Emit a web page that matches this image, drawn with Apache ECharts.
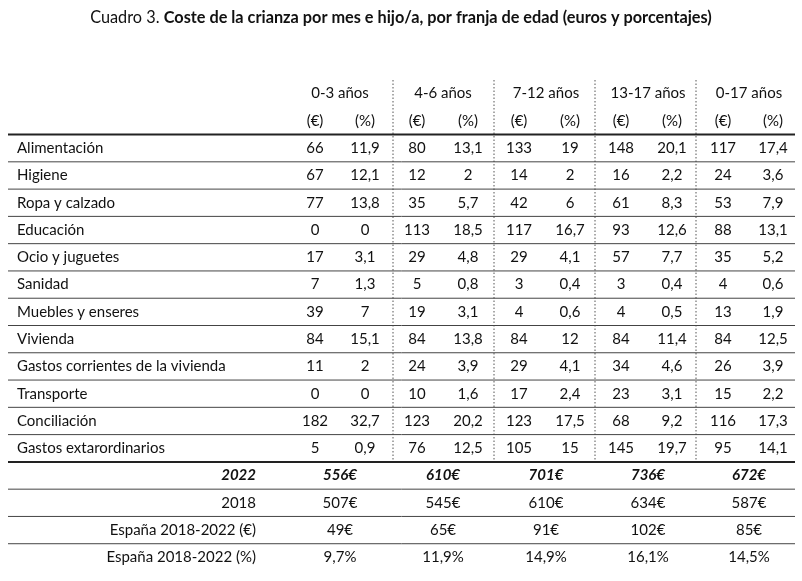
<!DOCTYPE html>
<html lang="es">
<head>
    <meta charset="UTF-8">
    <title>Cuadro 3</title>
    <script src="https://cdn.jsdelivr.net/npm/echarts@6/dist/echarts.min.js"></script>
    <style>
        html, body { margin: 0; padding: 0; background: #fff; }
        #main { width: 802px; height: 581px; }
    </style>
</head>
<body>
    <div id="main"></div>
    <script type="text/javascript">
        // datos de la tabla
        var categories = ['Alimentación', 'Higiene', 'Ropa y calzado', 'Educación', 'Ocio y juguetes', 'Sanidad',
            'Muebles y enseres', 'Vivienda', 'Gastos corrientes de la vivienda', 'Transporte', 'Conciliación',
            'Gastos extarordinarios'];
        var ageGroups = ['0-3 años', '4-6 años', '7-12 años', '13-17 años', '0-17 años'];
        var units = ['(€)', '(%)'];

        var eur0_3 = [66, 67, 77, 0, 17, 7, 39, 84, 11, 0, 182, 5];
        var pct0_3 = [11.9, 12.1, 13.8, 0, 3.1, 1.3, 7, 15.1, 2, 0, 32.7, 0.9];
        var eur4_6 = [80, 12, 35, 113, 29, 5, 19, 84, 24, 10, 123, 76];
        var pct4_6 = [13.1, 2, 5.7, 18.5, 4.8, 0.8, 3.1, 13.8, 3.9, 1.6, 20.2, 12.5];
        var eur7_12 = [133, 14, 42, 117, 29, 3, 4, 84, 29, 17, 123, 105];
        var pct7_12 = [19, 2, 6, 16.7, 4.1, 0.4, 0.6, 12, 4.1, 2.4, 17.5, 15];
        var eur13_17 = [148, 16, 61, 93, 57, 3, 4, 84, 34, 23, 68, 145];
        var pct13_17 = [20.1, 2.2, 8.3, 12.6, 7.7, 0.4, 0.5, 11.4, 4.6, 3.1, 9.2, 19.7];
        var eur0_17 = [117, 24, 53, 88, 35, 4, 13, 84, 26, 15, 116, 95];
        var pct0_17 = [17.4, 3.6, 7.9, 13.1, 5.2, 0.6, 1.9, 12.5, 3.9, 2.2, 17.3, 14.1];

        var summaryLabels = ['2022', '2018', 'España 2018-2022 (€)', 'España 2018-2022 (%)'];
        var total2022 = [556, 610, 701, 736, 672];
        var total2018 = [507, 545, 610, 634, 587];
        var diffEur = [49, 65, 91, 102, 85];
        var diffPct = [9.7, 11.9, 14.9, 16.1, 14.5];

        var eurByGroup = [eur0_3, eur4_6, eur7_12, eur13_17, eur0_17];
        var pctByGroup = [pct0_3, pct4_6, pct7_12, pct13_17, pct0_17];

        // maquetacion (posiciones en el eje x, 0..802)
        var labelX = 17, summaryRight = 256;
        var eurX = [315, 417, 519, 621, 723];
        var pctX = [365, 468, 570, 672, 773];
        var groupX = [340, 443, 546, 648, 749];
        var dividerX = [393, 494, 595, 696];
        var lineLeft = 8, lineRight = 795;
        var font = 'Lato, "DejaVu Sans", sans-serif';

        var rowKeys = ['grupos', 'unidades'].concat(categories, summaryLabels);
        var nCat = categories.length;
        var lastCatRow = 1 + nCat;

        function fmt(v) { return String(v).replace('.', ','); }

        function txt(x, y, s, align, bold, italic) {
            return {
                type: 'text',
                style: {
                    x: x, y: y, text: s,
                    textAlign: align || 'center', textVerticalAlign: 'middle',
                    fontFamily: font, fontSize: 15,
                    fontWeight: bold ? 'bold' : 'normal',
                    fontStyle: italic ? 'italic' : 'normal',
                    fill: '#111'
                }
            };
        }
        function hline(y, w, color) {
            return {
                type: 'line',
                shape: { x1: lineLeft, y1: y, x2: lineRight, y2: y },
                style: { stroke: color, lineWidth: w }
            };
        }

        function renderItem(params, api) {
            var r = api.value(0);
            var y = api.coord([0, r])[1];
            var bh = api.size([0, 1])[1];
            var bottom = y + bh / 2;
            var kids = [];
            var g, s;

            if (r === 0) {
                for (g = 0; g < ageGroups.length; g++) kids.push(txt(groupX[g], y, ageGroups[g]));
                // separadores punteados entre franjas
                var top = api.coord([0, 0])[1] - bh / 2;
                var end = api.coord([0, lastCatRow])[1] + bh / 2;
                for (g = 0; g < dividerX.length; g++) {
                    kids.push({
                        type: 'line',
                        shape: { x1: dividerX[g], y1: top, x2: dividerX[g], y2: end },
                        style: { stroke: '#555', lineWidth: 1, lineDash: [1.5, 2] }
                    });
                }
            } else if (r === 1) {
                for (g = 0; g < ageGroups.length; g++) {
                    kids.push(txt(eurX[g], y, units[0]));
                    kids.push(txt(pctX[g], y, units[1]));
                }
                kids.push(hline(bottom, 2, '#222'));
            } else if (r <= lastCatRow) {
                var i = r - 2;
                kids.push(txt(labelX, y, categories[i], 'left'));
                for (g = 0; g < ageGroups.length; g++) {
                    kids.push(txt(eurX[g], y, fmt(eurByGroup[g][i])));
                    kids.push(txt(pctX[g], y, fmt(pctByGroup[g][i])));
                }
                kids.push(r === lastCatRow ? hline(bottom, 2, '#222') : hline(bottom, 1, '#444'));
            } else {
                s = r - lastCatRow - 1;
                var bold = s === 0;
                kids.push(txt(summaryRight, y, summaryLabels[s], 'right', bold, bold));
                for (g = 0; g < ageGroups.length; g++) {
                    var v;
                    if (s === 0) v = total2022[g] + '€';
                    else if (s === 1) v = total2018[g] + '€';
                    else if (s === 2) v = diffEur[g] + '€';
                    else v = fmt(diffPct[g]) + '%';
                    kids.push(txt(groupX[g], y, v, 'center', bold, bold));
                }
                if (s < 3) kids.push(hline(bottom, 1, '#444'));
            }
            return { type: 'group', children: kids };
        }

        var myChart = echarts.init(document.getElementById('main'));

        var option = {
            animation: false,
            title: {
                text: '{n|Cuadro 3. }{b|Coste de la crianza por mes e hijo/a, por franja de edad (euros y porcentajes)}',
                left: 'center',
                top: 5,
                textStyle: {
                    rich: {
                        n: { fontFamily: font, fontSize: 16.3, fontWeight: 'normal', color: '#111' },
                        b: { fontFamily: font, fontSize: 16.3, fontWeight: 'bold', color: '#111' }
                    }
                }
            },
            grid: { left: 0, right: 0, top: 80, bottom: 10 },
            xAxis: { type: 'value', min: 0, max: 802, show: false },
            yAxis: { type: 'category', data: rowKeys, inverse: true, show: false },
            series: [{
                type: 'custom',
                renderItem: renderItem,
                clip: false,
                silent: true,
                data: rowKeys.map(function (k, i) { return [i]; }),
                encode: { y: 0 }
            }]
        };

        myChart.setOption(option);
    </script>
</body>
</html>
